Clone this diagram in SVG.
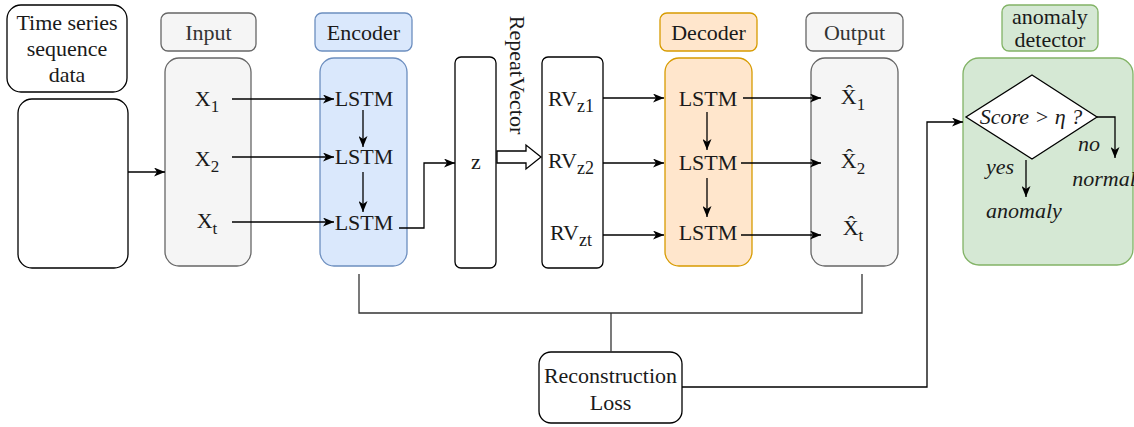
<svg xmlns="http://www.w3.org/2000/svg" width="1134" height="427" viewBox="0 0 1134 427" font-family="'Liberation Serif', 'DejaVu Serif', serif">
<defs>
<marker id="ah" viewBox="0 0 11 9" refX="11" refY="4.5" markerWidth="11" markerHeight="9" markerUnits="userSpaceOnUse" orient="auto">
<path d="M0,0 L11,4.5 L0,9 L3,4.5 Z" fill="#000"/>
</marker>
</defs>
<style>
text{font-family:'Liberation Serif','DejaVu Serif',serif;font-size:22px;fill:#1a1a1a;text-anchor:middle}
.it{font-style:italic}
.plain{fill:#fff;stroke:#000;stroke-width:1.3}
.gray{fill:#f5f5f5;stroke:#666;stroke-width:1.3}
.blue{fill:#dae8fc;stroke:#6c8ebf;stroke-width:1.3}
.orange{fill:#ffe6cc;stroke:#d79b00;stroke-width:1.3}
.green{fill:#d5e8d4;stroke:#82b366;stroke-width:1.3}
.g{fill:#333}
.arr{fill:none;stroke:#000;stroke-width:1.3;marker-end:url(#ah)}
.loss{fill:none;stroke:#333;stroke-width:1.3}
</style>

<g id="ts-label">
<rect class="plain" x="7" y="5" width="120" height="87" rx="14"/>
<text x="67" y="30">Time series</text>
<text x="67" y="56">sequence</text>
<text x="67" y="82">data</text>
</g>
<g id="ts-data">
<rect class="plain" x="18" y="99" width="110" height="169" rx="14"/>
</g>

<g id="input-label">
<rect class="gray" x="161" y="13" width="95" height="38" rx="7"/>
<text class="g" x="208.5" y="40">Input</text>
</g>
<g id="input">
<rect class="gray" x="165" y="58" width="86" height="208" rx="14"/>
<text x="207" y="106">X<tspan font-size="17" dy="6">1</tspan></text>
<text x="207" y="166">X<tspan font-size="17" dy="6">2</tspan></text>
<text x="207" y="228">X<tspan font-size="17" dy="6">t</tspan></text>
</g>

<g id="encoder-label">
<rect class="blue" x="315" y="13" width="97" height="38" rx="7"/>
<text x="363.5" y="40">Encoder</text>
</g>
<g id="encoder">
<rect class="blue" x="320" y="58" width="87" height="208" rx="14"/>
<text x="364" y="106">LSTM</text>
<text x="364" y="164">LSTM</text>
<text x="364" y="230">LSTM</text>
</g>

<g id="z">
<rect class="plain" x="455" y="57" width="41" height="211" rx="6"/>
<text x="476" y="169">z</text>
</g>

<g id="repeat-label">
<text x="0" y="0" font-size="21" transform="translate(510,75) rotate(90)">RepeatVector</text>
</g>

<g id="rv">
<rect class="plain" x="542" y="57" width="61" height="211" rx="6"/>
<text x="571" y="106">RV<tspan font-size="18" dy="6">z1</tspan></text>
<text x="571" y="168">RV<tspan font-size="18" dy="6">z2</tspan></text>
<text x="571" y="240">RV<tspan font-size="18" dy="6">zt</tspan></text>
</g>

<g id="decoder-label">
<rect class="orange" x="660" y="13" width="97" height="38" rx="7"/>
<text x="708.5" y="40">Decoder</text>
</g>
<g id="decoder">
<rect class="orange" x="665" y="58" width="87" height="208" rx="14"/>
<text x="708" y="106">LSTM</text>
<text x="708" y="170">LSTM</text>
<text x="708" y="240">LSTM</text>
</g>

<g id="output-label">
<rect class="gray" x="806" y="13" width="97" height="38" rx="7"/>
<text class="g" x="854.5" y="40">Output</text>
</g>
<g id="output">
<rect class="gray" x="811" y="58" width="87" height="208" rx="14"/>
<text x="853" y="104">X&#770;<tspan font-size="17" dy="6">1</tspan></text>
<text x="853" y="168">X&#770;<tspan font-size="17" dy="6">2</tspan></text>
<text x="853" y="235">X&#770;<tspan font-size="17" dy="6">t</tspan></text>
</g>

<g id="detector-label">
<rect class="green" x="1002" y="5" width="96" height="46" rx="7"/>
<text x="1050" y="24" font-size="20">anomaly</text>
<text x="1050" y="47" font-size="20">detector</text>
</g>
<g id="detector">
<rect class="green" x="963" y="58" width="170" height="207" rx="16"/>
<polygon class="plain" points="1032,75 1097,117 1032,159 966,117"/>
<text class="it" x="1031" y="124">Score &gt; η ?</text>
<text class="it" x="1000" y="174">yes</text>
<text class="it" x="1089" y="151">no</text>
<text class="it" x="1104" y="186">normal</text>
<text class="it" x="1024" y="218">anomaly</text>
</g>

<g id="loss">
<rect class="plain" x="539" y="352" width="143" height="71" rx="12"/>
<text x="610.5" y="383">Reconstruction</text>
<text x="610.5" y="410">Loss</text>
</g>

<g id="connectors">
<path class="arr" d="M128,172 H165"/>
<path class="arr" d="M232,99 H334"/>
<path class="arr" d="M232,157 H334"/>
<path class="arr" d="M232,222 H334"/>
<path class="arr" d="M363,110 V147"/>
<path class="arr" d="M363,172 V212"/>
<path class="arr" d="M399,228 H424 V163 H455"/>
<polygon points="497,151 526,151 526,145 541,157 526,169 526,163 497,163" fill="#fff" stroke="#000" stroke-width="1.3"/>
<path class="arr" d="M603,98 H664"/>
<path class="arr" d="M603,163 H664"/>
<path class="arr" d="M603,235 H664"/>
<path class="arr" d="M707,112 V150"/>
<path class="arr" d="M707,178 V217"/>
<path class="arr" d="M743,98 H821"/>
<path class="arr" d="M741,163 H821"/>
<path class="arr" d="M741,235 H821"/>
<path class="loss" d="M359,274 V313 H862 V274"/>
<path class="loss" d="M611,313 V352"/>
<path class="arr" d="M682,387 H927 V122 H963"/>
<path class="arr" d="M1097,117 H1115 V158"/>
<path class="arr" d="M1026,160 V197"/>
</g>
</svg>
